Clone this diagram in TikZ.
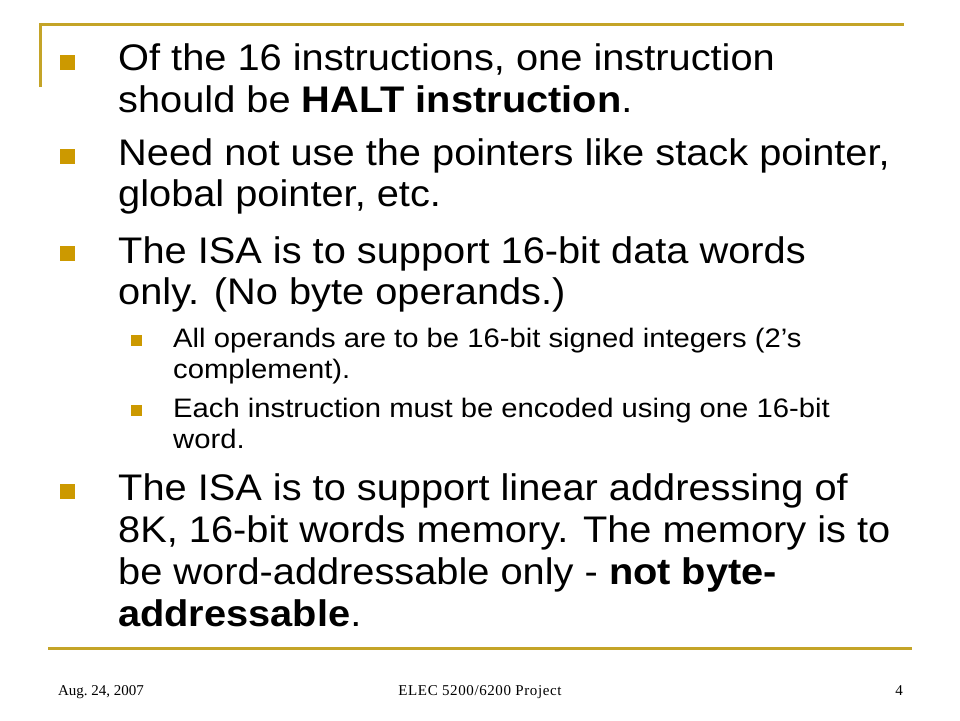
\documentclass[tikz,border=0pt]{standalone}
\usepackage{fontspec}
\setmainfont{Liberation Sans}[FakeStretch=1.075]
\newfontfamily\subfont{Liberation Sans}[FakeStretch=1.095]
\newfontfamily\footfont{Liberation Serif}
\definecolor{bulgold}{RGB}{204,153,0}
\definecolor{linegold}{RGB}{196,164,40}
\tikzset{
  lvlone/.style={anchor=base west,inner sep=0pt,font=\fontsize{37}{41}\selectfont},
  lvltwo/.style={anchor=base west,inner sep=0pt,font=\subfont\fontsize{26.7}{31}\selectfont},
  bigbul/.style={fill=bulgold,draw=none,minimum size=15pt,inner sep=0pt},
  smallbul/.style={fill=bulgold,draw=none,minimum size=11pt,inner sep=0pt},
  foot/.style={anchor=base,inner sep=0pt,font=\footfont\frenchspacing\fontsize{15}{18}\selectfont},
  rule/.style={draw=linegold,line width=3pt}
}
\begin{document}
\begin{tikzpicture}[x=1pt,y=-1pt]
\useasboundingbox (0,0) rectangle (960,720);
\fill[white] (0,0) rectangle (960,720);
% decorative lines
\coordinate (tl) at (40,24);
\coordinate (tr) at (904,24);
\coordinate (lb) at (40,87);
\coordinate (bl) at (48,648);
\coordinate (br) at (912,648);
\draw[rule] (lb) -- (tl) -- (tr);
\draw[rule] (bl) -- (br);
% bullets
\node[bigbul] (b1) at (67.5,62.5) {};
\node[bigbul] (b2) at (67.5,156.5) {};
\node[bigbul] (b3) at (67.5,253) {};
\node[smallbul] (s1) at (136,340.5) {};
\node[smallbul] (s2) at (136,410.5) {};
\node[bigbul] (b4) at (67.5,491) {};
% text
\node[lvlone] (t1a) at (118,70.7) {Of the 16 instructions, one instruction};
\node[lvlone] (t1b) at (118,112) {should be \textbf{HALT instruction}.};
\node[lvlone] (t2a) at (118,165) {Need not use the pointers like stack pointer,};
\node[lvlone] (t2b) at (118,206) {global pointer, etc.};
\node[lvlone] (t3a) at (118,263) {The ISA is to support 16-bit data words};
\node[lvlone] (t3b) at (118,304) {only. (No byte operands.)};
\node[lvltwo] (u1a) at (173,347) {All operands are to be 16-bit signed integers (2’s};
\node[lvltwo] (u1b) at (173,378.5) {complement).};
\node[lvltwo] (u2a) at (173,417) {Each instruction must be encoded using one 16-bit};
\node[lvltwo] (u2b) at (173,448.5) {word.};
\node[lvlone] (t4a) at (118,500) {The ISA is to support linear addressing of};
\node[lvlone] (t4b) at (118,542) {8K, 16-bit words memory. The memory is to};
\node[lvlone] (t4c) at (118,584) {be word-addressable only - \textbf{not byte-}};
\node[lvlone] (t4d) at (118,626) {\textbf{addressable}.};
% footer
\node[foot] (fd) at (101,695) {Aug. 24, 2007};
\node[foot,font=\footfont\fontsize{15}{18}\selectfont\addfontfeatures{LetterSpace=4}] (fc) at (480,695) {ELEC 5200/6200 Project};
\node[foot] (fn) at (899,695) {4};
\end{tikzpicture}
\end{document}
